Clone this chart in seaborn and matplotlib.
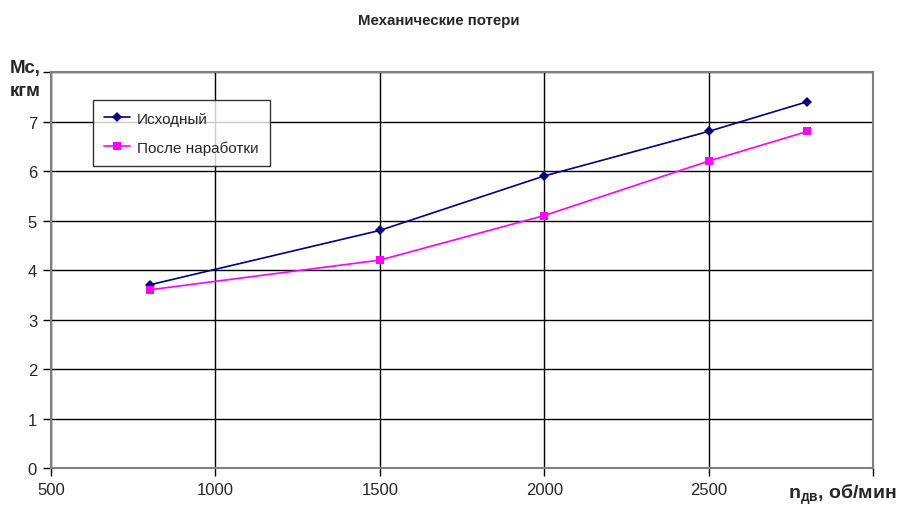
import seaborn as sns
import matplotlib.pyplot as plt
import pandas as pd

# data
n_dv = [800, 1500, 2000, 2500, 2800]
ishodny = [3.7, 4.8, 5.9, 6.8, 7.4]
posle = [3.6, 4.2, 5.1, 6.2, 6.8]
series_names = ["Исходный", "После наработки"]

x_ticks = [500, 1000, 1500, 2000, 2500, 3000]
x_labels = ["500", "1000", "1500", "2000", "2500", ""]
y_ticks = [0, 1, 2, 3, 4, 5, 6, 7, 8]
y_labels = ["0", "1", "2", "3", "4", "5", "6", "7", ""]

df = pd.DataFrame({
    "n": n_dv * 2,
    "M": ishodny + posle,
    "serie": [series_names[0]] * len(n_dv) + [series_names[1]] * len(n_dv),
})

sns.set_style("white")
plt.rcParams['font.family'] = ['Liberation Sans', 'DejaVu Sans']
plt.rcParams['mathtext.fontset'] = 'custom'
plt.rcParams['mathtext.rm'] = 'Liberation Sans'
plt.rcParams['mathtext.bf'] = 'Liberation Sans:bold'

fig = plt.figure(figsize=(8.99, 5.06), dpi=100)
ax = fig.add_axes([0.0567, 0.0731, 0.9144, 0.7826])

sns.lineplot(data=df, x="n", y="M", hue="serie", style="serie",
             markers={"Исходный": "D", "После наработки": "s"}, dashes=False,
             palette={"Исходный": "#000080", "После наработки": "#FF00FF"},
             markersize=5.5, markeredgewidth=0, linewidth=1.2, ax=ax)

ax.set_xlim(500, 3000)
ax.set_ylim(0, 8)
ax.set_xticks(x_ticks)
ax.set_xticklabels(x_labels)
ax.set_yticks(y_ticks)
ax.set_yticklabels(y_labels)
ax.grid(True, color="black", linewidth=1)
ax.set_axisbelow(True)
for s in ax.spines.values():
    s.set_visible(True)
    s.set_color("#808080")
    s.set_linewidth(1.5)
ax.tick_params(axis="both", direction="out", length=6, width=1, color="black",
               labelsize=12, pad=4, bottom=True, left=True)
ax.set_xlabel("")
ax.set_ylabel("")

leg = ax.legend(loc="upper left", bbox_to_anchor=(0.051, 0.929), frameon=True,
                fancybox=False, fontsize=11, borderpad=0.75, labelspacing=0.95,
                handlelength=1.7, handletextpad=0.45, borderaxespad=0)
leg.get_frame().set_edgecolor("black")
leg.get_frame().set_linewidth(1)
leg.set_title(None)

fig.text(439 / 899, 1 - 21 / 506, "Механические потери", ha="center", va="center",
         fontsize=10.8, fontweight="bold")
fig.text(10 / 899, 1 - 80 / 506, "Мс,\nкгм", ha="left", va="center",
         fontsize=13.5, fontweight="bold", linespacing=1.45)
fig.text(897 / 899, 1 - 494 / 506, r"$\mathbf{n_{дв}}$, об/мин", ha="right", va="center",
         fontsize=14, fontweight="bold")

plt.savefig("out.png", dpi=100)
